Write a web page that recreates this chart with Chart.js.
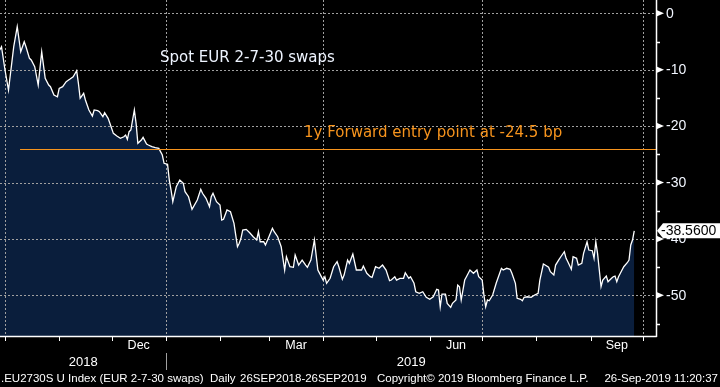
<!DOCTYPE html>
<html lang="en">
<head>
<meta charset="UTF-8">
<title>EUR 2-7-30 swaps</title>
<script src="https://cdn.jsdelivr.net/npm/chart.js"></script>
<style>
    html, body { margin: 0; padding: 0; background: #000; }
    #wrap { width: 720px; height: 387px; }
</style>
</head>
<body>
<div id="wrap"><canvas id="grafico" width="720" height="387"></canvas></div>

<script>
    // dias contados a partir de 26-Sep-2018, valores em bp
    const dias = [2, 3, 5, 7, 10, 12, 14, 16, 17, 19, 20, 22, 24, 26, 28, 30, 31, 33, 35, 36,
        38, 40, 42, 44, 46, 47, 48, 50, 51, 53, 55, 56, 58, 59, 61, 62, 64, 65, 67, 69,
        71, 73, 74, 75, 76, 77, 79, 80, 81, 83, 84, 86, 87, 89, 91, 93, 95, 96, 98, 99,
        100, 101, 103, 105, 107, 108, 110, 112, 115, 117, 118, 120, 122, 123, 124, 126, 128, 129, 130, 132,
        134, 136, 138, 139, 140, 141, 143, 145, 147, 149, 150, 151, 153, 154, 156, 158, 159, 161, 163, 165,
        166, 168, 170, 171, 173, 175, 177, 178, 180, 182, 184, 185, 187, 188, 189, 191, 193, 195, 196, 198,
        199, 201, 202, 204, 206, 209, 210, 212, 214, 215, 217, 219, 221, 223, 225, 226, 228, 229, 231, 233,
        234, 236, 237, 239, 240, 242, 244, 246, 248, 250, 252, 253, 254, 255, 257, 258, 260, 261, 263, 264,
        265, 266, 268, 269, 271, 273, 275, 276, 278, 279, 280, 281, 282, 284, 286, 287, 289, 290, 292, 294,
        295, 297, 298, 300, 301, 302, 304, 306, 308, 310, 311, 313, 314, 316, 317, 319, 320, 322, 323, 325,
        326, 327, 329, 330, 332, 333, 335, 336, 338, 339, 341, 342, 343, 344, 346, 347, 349, 350, 352, 353,
        354, 355, 356, 358, 359, 361, 362, 363, 364, 365];
    const valores = [-6.51, -5.92, -10.05, -13.60, -5.92, -2.38, -6.81, -5.04, -5.92, -7.98, -8.28, -9.47, -12.71, -6.81, -11.52, -12.71, -13.01, -14.49, -14.79, -13.30,
        -13.01, -12.13, -11.70, -11.24, -10.18, -12.41, -15.07, -14.18, -15.37, -17.14, -18.21, -17.14, -17.27, -17.45, -18.33, -17.62, -18.62, -19.50, -21.28, -21.75,
        -22.16, -21.88, -21.58, -22.34, -20.99, -20.69, -17.14, -19.50, -23.05, -22.46, -21.99, -23.17, -23.35, -23.65, -23.83, -23.94, -25.12, -26.60, -26.77, -29.56,
        -31.33, -33.40, -30.74, -29.56, -30.14, -31.63, -32.52, -34.75, -33.10, -31.20, -31.91, -32.80, -34.29, -32.52, -31.91, -33.40, -33.99, -36.65, -36.52, -34.87,
        -35.18, -37.23, -41.38, -40.78, -39.89, -38.42, -38.30, -38.90, -39.61, -40.19, -38.72, -40.50, -40.50, -41.08, -39.61, -38.12, -38.72, -39.61, -41.38, -45.51,
        -43.16, -44.93, -45.03, -42.85, -44.63, -43.74, -44.63, -45.03, -43.74, -40.19, -45.51, -46.10, -47.29, -46.70, -47.87, -46.98, -44.93, -44.04, -44.93, -47.16,
        -46.40, -43.74, -44.33, -42.68, -45.51, -45.51, -44.80, -46.10, -46.70, -46.81, -44.93, -45.21, -44.63, -45.51, -47.41, -47.29, -46.70, -47.29, -46.98, -46.98,
        -45.99, -46.98, -46.70, -47.87, -49.36, -49.64, -49.36, -50.35, -50.71, -50.25, -48.93, -49.06, -52.02, -49.77, -49.77, -51.42, -52.13, -51.42, -50.83, -48.17,
        -48.47, -50.83, -47.29, -46.70, -45.51, -46.10, -45.51, -46.70, -47.29, -49.95, -52.02, -50.83, -50.96, -49.95, -47.87, -46.98, -45.21, -45.51, -45.21, -45.39,
        -46.10, -47.87, -50.53, -50.71, -50.96, -50.35, -50.25, -50.35, -49.95, -49.64, -47.29, -44.45, -44.63, -45.03, -45.81, -46.40, -44.63, -43.62, -43.16, -42.27,
        -43.44, -44.04, -45.39, -43.16, -43.44, -44.63, -44.33, -42.55, -40.50, -41.97, -42.09, -43.44, -40.50, -42.55, -48.47, -47.29, -46.58, -47.59, -46.98, -46.70,
        -46.58, -47.59, -46.70, -45.51, -44.93, -44.22, -43.74, -41.08, -40.19, -38.56];

    // eixo y
    const ticksY = [-50, -40, -30, -20, -10, 0];
    const ticksYMenores = [-55, -45, -35, -25, -15, -5];

    // eixo x (dias): inicio de cada mes, inicio de cada trimestre, rotulos
    const iniciosMes = [5, 36, 66, 97, 128, 156, 187, 217, 248, 278, 309, 340, 370];
    const iniciosTrimestre = [5, 97, 187, 278, 370];
    const rotulosMes = ['Dec', 'Mar', 'Jun', 'Sep'];
    const meioMes = [81.5, 171.5, 263, 355];
    const rotulosAno = ['2018', '2019'];
    const viradaAno = 97;

    // linha de entrada forward
    const nivelEntrada = -24.1;
    const inicioEntrada = 13.6;

    const tituloSerie = 'Spot EUR 2-7-30 swaps';
    const tituloEntrada = '1y Forward entry point at -24.5 bp';
    const ultimoTexto = '-38.5600';

    const eixoXMin = 2.14, eixoXMax = 377.44;
    const eixoYMin = -57.21, eixoYMax = 2.36;

    const pontos = dias.map((d, i) => ({ x: d, y: valores[i] }));

    function linha(ctx, x1, y1, x2, y2) {
        ctx.beginPath();
        ctx.moveTo(x1, y1);
        ctx.lineTo(x2, y2);
        ctx.stroke();
    }

    let gradeFeita = false;

    function desenharGrade(chart) {
        const { ctx, chartArea: a, scales: { x, y } } = chart;
        ctx.save();
        ctx.strokeStyle = '#a0a0a0';
        ctx.lineWidth = 1;
        ctx.setLineDash([2, 2]);
        ticksY.forEach(v => {
            const py = Math.round(y.getPixelForValue(v)) + 0.5;
            linha(ctx, a.left, py, a.right, py);
        });
        iniciosTrimestre.forEach(d => {
            const px = Math.round(x.getPixelForValue(d)) + 0.5;
            linha(ctx, px, a.top, px, a.bottom);
        });
        ctx.restore();
        gradeFeita = true;
    }

    const desenhos = {
        id: 'desenhos',
        beforeDraw() {
            gradeFeita = false;
        },
        // grade tracejada por cima do preenchimento e por baixo da linha branca
        beforeDatasetDraw(chart, args) {
            if (!gradeFeita && args.meta === chart.getDatasetMeta(1)) desenharGrade(chart);
        },
        afterDatasetsDraw(chart) {
            if (!gradeFeita) desenharGrade(chart);
            const { ctx, chartArea: a, scales: { x, y } } = chart;
            ctx.save();
            const py = Math.round(y.getPixelForValue(nivelEntrada)) + 0.5;
            ctx.strokeStyle = '#f7941d';
            ctx.lineWidth = 1.2;
            linha(ctx, x.getPixelForValue(inicioEntrada), py, a.right, py);

            ctx.textBaseline = 'alphabetic';
            ctx.textAlign = 'left';
            ctx.font = '15px "DejaVu Sans"';
            ctx.fillStyle = '#eef4ff';
            ctx.fillText(tituloSerie, 160, 62);
            ctx.fillStyle = '#f7941d';
            ctx.fillText(tituloEntrada, 304, 137);
            ctx.restore();
        },
        afterDraw(chart) {
            const { ctx, chartArea: a, scales: { x, y } } = chart;
            ctx.save();
            ctx.strokeStyle = '#ffffff';
            ctx.fillStyle = '#ffffff';
            ctx.lineWidth = 1.5;
            // eixos
            linha(ctx, a.left, a.bottom + 0.5, a.right + 0.75, a.bottom + 0.5);
            linha(ctx, a.right + 0.5, a.top, a.right + 0.5, a.bottom + 1);

            // marcas do eixo x
            ctx.lineWidth = 1;
            iniciosMes.forEach(d => {
                const px = Math.round(x.getPixelForValue(d)) + 0.5;
                linha(ctx, px, a.bottom, px, a.bottom + 5);
            });

            // marcas e rotulos do eixo y
            ctx.lineWidth = 1.5;
            ticksYMenores.forEach(v => {
                const py = Math.round(y.getPixelForValue(v)) + 0.5;
                linha(ctx, a.right, py, a.right + 4, py);
            });
            ctx.textAlign = 'left';
            ctx.textBaseline = 'middle';
            ctx.font = '14px "Liberation Sans"';
            ticksY.forEach(v => {
                const py = y.getPixelForValue(v);
                ctx.fillStyle = '#ffffff';
                ctx.beginPath();
                ctx.moveTo(a.right, py - 3.5);
                ctx.lineTo(a.right + 8, py);
                ctx.lineTo(a.right, py + 3.5);
                ctx.closePath();
                ctx.fill();
                ctx.fillStyle = '#f2f6ff';
                ctx.fillText(String(v), a.right + 10, py + 0.5);
            });

            // rotulos dos meses e anos
            ctx.fillStyle = '#ffffff';
            ctx.textAlign = 'center';
            ctx.font = '12.5px "Liberation Sans"';
            rotulosMes.forEach((r, i) => ctx.fillText(r, x.getPixelForValue(meioMes[i]), 346));
            ctx.font = '13px "Liberation Sans"';
            const pv = Math.round(x.getPixelForValue(viradaAno)) + 0.5;
            ctx.fillText(rotulosAno[0], (a.left + pv) / 2, 362);
            ctx.fillText(rotulosAno[1], (pv + a.right) / 2, 362);
            ctx.strokeStyle = '#a0a0a0';
            ctx.lineWidth = 1;
            linha(ctx, pv, 353, pv, 370);

            // ultimo valor
            const ultimo = valores[valores.length - 1];
            const pu = y.getPixelForValue(ultimo);
            ctx.fillStyle = '#ffffff';
            ctx.beginPath();
            ctx.moveTo(a.right + 1, pu);
            ctx.lineTo(a.right + 7, pu - 7.5);
            ctx.lineTo(720, pu - 7.5);
            ctx.lineTo(720, pu + 7.5);
            ctx.lineTo(a.right + 7, pu + 7.5);
            ctx.closePath();
            ctx.fill();
            ctx.fillStyle = '#000000';
            ctx.textAlign = 'left';
            ctx.font = '14px "Liberation Sans"';
            ctx.fillText(ultimoTexto, a.right + 5, pu + 0.5);

            // rodape
            ctx.fillStyle = '#ffffff';
            ctx.font = '11.5px "Liberation Sans"';
            ctx.fillText('.EU2730S U Index (EUR 2-7-30 swaps)  Daily', 1, 379);
            ctx.fillText('26SEP2018-26SEP2019', 240, 379);
            ctx.fillText('Copyright\u00a9 2019 Bloomberg Finance L.P.', 377, 379);
            ctx.textAlign = 'right';
            ctx.fillText('26-Sep-2019 11:20:37', 718, 379);
            ctx.restore();
        }
    };

    const config = {
        type: 'line',
        data: {
            datasets: [{
                // preenchimento azul escuro
                data: pontos,
                borderWidth: 0,
                borderColor: 'rgba(0,0,0,0)',
                backgroundColor: '#0a1e3c',
                fill: 'start',
                pointRadius: 0,
                tension: 0,
                order: 2
            }, {
                // linha branca
                data: pontos,
                borderWidth: 1.3,
                borderColor: '#ffffff',
                fill: false,
                pointRadius: 0,
                tension: 0,
                order: 1
            }]
        },
        options: {
            responsive: false,
            animation: false,
            devicePixelRatio: 1,
            layout: { padding: 0 },
            plugins: {
                legend: { display: false },
                tooltip: { enabled: false }
            },
            scales: {
                x: {
                    type: 'linear',
                    min: eixoXMin,
                    max: eixoXMax,
                    ticks: { display: false },
                    grid: { display: false },
                    border: { display: false },
                    afterFit: (s) => { s.height = 51; s.paddingLeft = 0; s.paddingRight = 0; }
                },
                y: {
                    position: 'right',
                    min: eixoYMin,
                    max: eixoYMax,
                    afterBuildTicks: (s) => { s.ticks = ticksY.map(v => ({ value: v })); },
                    ticks: { display: false },
                    grid: { display: false },
                    border: { display: false },
                    afterFit: (s) => { s.width = 64; s.paddingTop = 0; s.paddingBottom = 0; }
                }
            }
        },
        plugins: [desenhos]
    };

    new Chart(document.getElementById('grafico'), config);
</script>
</body>
</html>
